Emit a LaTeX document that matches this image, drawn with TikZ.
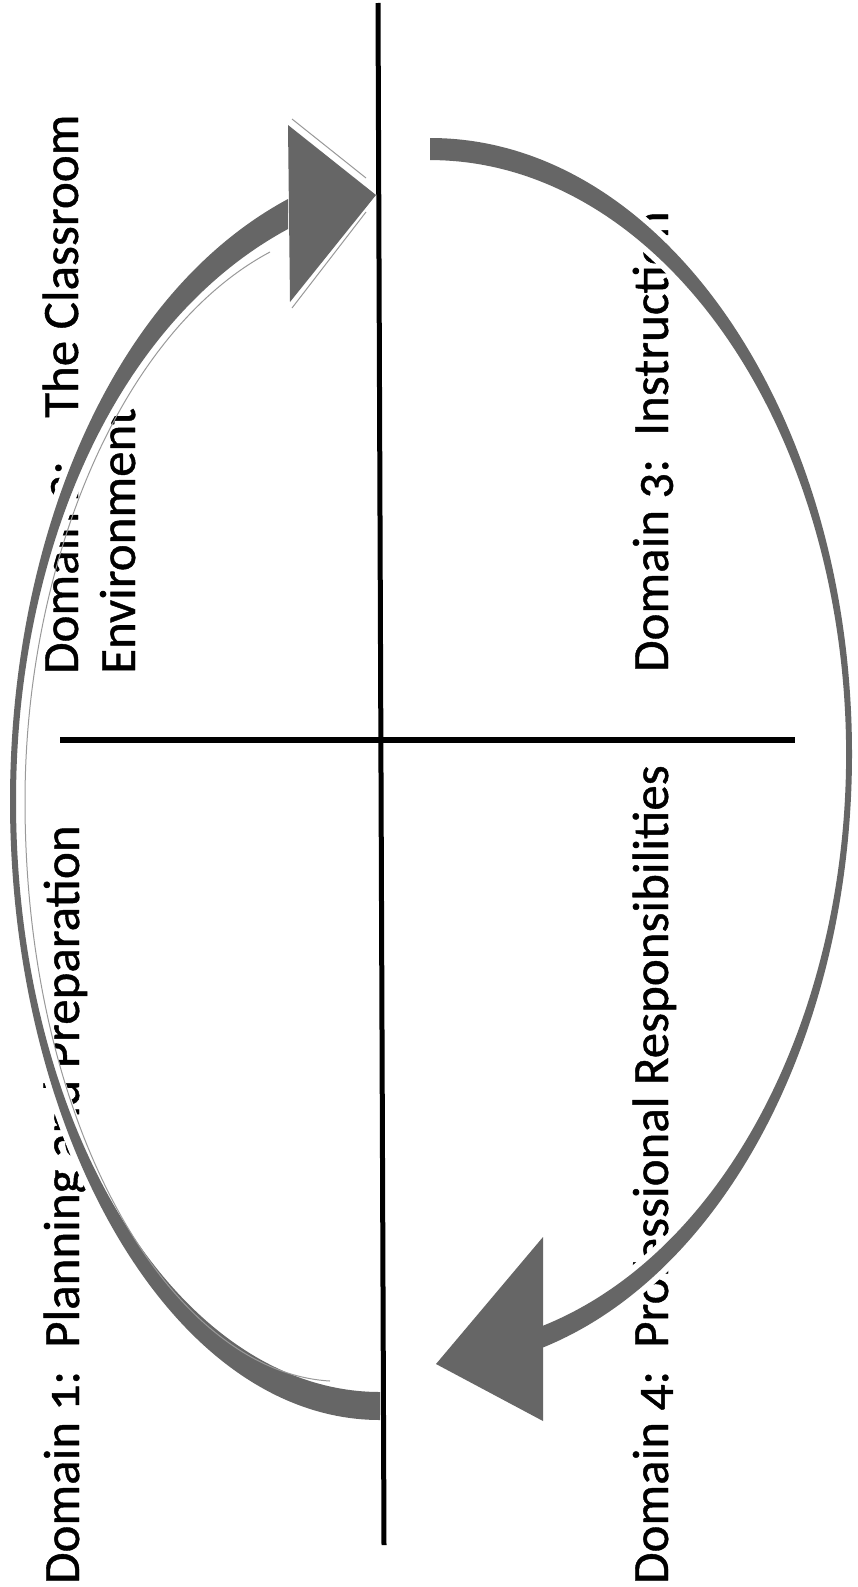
\documentclass[tikz,border=0pt]{standalone}
\usepackage{fontspec}
\setmainfont{Carlito}[Numbers=OldStyle, FakeBold=0.8]
\begin{document}
\begin{tikzpicture}[x=1pt,y=1pt,yscale=-1]
\tikzset{
  lbl/.style={rotate=90, anchor=base west, inner sep=0pt, font=\fontsize{51}{57}\selectfont},
  band/.style={fill=black!60},
  halo/.style={draw=white, fill=white, line width=12pt, line join=round},
  axisline/.style={line width=5pt, black},
  faint/.style={draw=black!40, line width=1pt}
}
\useasboundingbox (0,0) rectangle (858,1587);
\fill[white] (0,0) rectangle (858,1587);

% texts
\node[lbl] (d1) at (79,1584) {Domain 1:~~Planning and Preparation};
\node[lbl] (d2) at (78,674) {Domain 2:~~\hspace{20pt}The Classroom};
\node[lbl] (d2b) at (135,674) {Environment};
\node[lbl] (d3) at (668,672) {Domain 3:~~Instruction};
\node[lbl] (d4) at (668,1584) {Domain 4:~~Professional Responsibilities};

% halos
\path[halo] (380,1420) .. controls (172,1420) and (10,1135) .. (10,801)
  .. controls (10,548) and (106,297) .. (288,199) -- (288,229)
  .. controls (114,323) and (16,554) .. (16,801)
  .. controls (16,1135) and (182,1392) .. (380,1392) -- cycle;
\path[halo] (288,125) -- (376,195) -- (290,302) -- cycle;
\path[halo] (430,138) arc[start angle=-90, end angle=74.7, x radius=422, y radius=616]
  -- (539.8,1327) arc[start angle=74.7, end angle=-90, x radius=416, y radius=594] -- cycle;
\path[halo] (543,1237) -- (436,1364) -- (543,1421) -- cycle;

% left arc
\path[band] (380,1420) .. controls (172,1420) and (10,1135) .. (10,801)
  .. controls (10,548) and (106,297) .. (288,199) -- (288,229)
  .. controls (114,323) and (16,554) .. (16,801)
  .. controls (16,1135) and (182,1392) .. (380,1392) -- cycle;
\path[band] (288,125) -- (376,195) -- (290,302) -- cycle;
\path[faint] (330,1381) .. controls (172,1372) and (25,1130) .. (25,801)
  .. controls (25,565) and (120,332) .. (270,252);
\path[faint] (292,119) -- (366,178);
\path[faint] (292,308) -- (366,212);

% right arc
\path[band] (430,138) arc[start angle=-90, end angle=74.7, x radius=422, y radius=616]
  -- (539.8,1327) arc[start angle=74.7, end angle=-90, x radius=416, y radius=594] -- cycle;
\path[band] (543,1237) -- (436,1364) -- (543,1421) -- cycle;

% axes
\coordinate (vt) at (378,3);
\coordinate (vb) at (384,1545);
\coordinate (hl) at (60,740);
\coordinate (hr) at (795,740);
\draw[axisline] (vt) -- (vb);
\draw[axisline, line width=6pt] (hl) -- (hr);
\end{tikzpicture}
\end{document}
